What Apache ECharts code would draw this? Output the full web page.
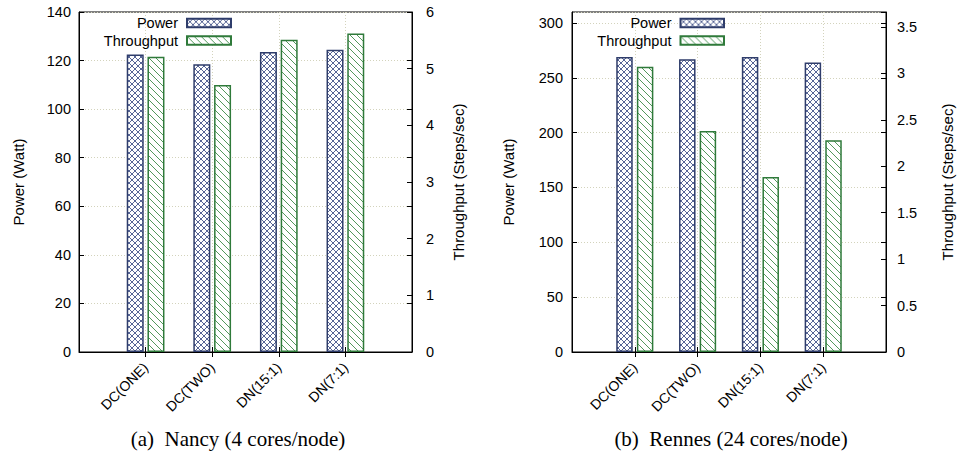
<!DOCTYPE html>
<html><head><meta charset="utf-8">
<script src="https://cdn.jsdelivr.net/npm/echarts@6/dist/echarts.min.js"></script>
<style>html,body{margin:0;padding:0;background:#fff}#c{width:957px;height:453px}</style>
</head><body><div id="c"></div>
<script>
// ---- data ----
const categories = ['DC(ONE)', 'DC(TWO)', 'DN(15:1)', 'DN(7:1)'];
const nancyPower = [122.5, 118.5, 123.5, 124.5];
const nancyThroughput = [5.21, 4.71, 5.51, 5.62];
const rennesPower = [269, 267, 269, 264];
const rennesThroughput = [3.07, 2.38, 1.885, 2.28];
const seriesNames = ['Power', 'Throughput'];
const nancyPowerAxis = [0, 140, 20];       // min, max, step
const nancyThroughputAxis = [0, 6, 1];
const rennesPowerAxis = [0, 310, 50];
const rennesThroughputAxis = [0, 3.66, 0.5];
const captions = ['(a)  Nancy (4 cores/node)', '(b)  Rennes (24 cores/node)'];
const axisNames = ['Power (Watt)', 'Throughput (Steps/sec)'];

// ---- styling helpers ----
const NAVY = '#2f3d6b', GREEN = '#2f7a3a';
const SANS = '"Liberation Sans", Arial, sans-serif';
const SERIF = '"Liberation Serif", "Times New Roman", serif';
function crossPattern(color) {
  const s = 6, c = document.createElement('canvas'); c.width = c.height = s;
  const g = c.getContext('2d'); g.fillStyle = '#fff'; g.fillRect(0, 0, s, s);
  g.strokeStyle = color; g.lineWidth = 0.9;
  g.beginPath(); g.moveTo(0, 0); g.lineTo(s, s); g.moveTo(s, 0); g.lineTo(0, s); g.stroke();
  return c;
}
function hatchPattern(color) {
  const s = 7, c = document.createElement('canvas'); c.width = c.height = s;
  const g = c.getContext('2d'); g.fillStyle = '#fff'; g.fillRect(0, 0, s, s);
  g.strokeStyle = color; g.lineWidth = 0.9;
  g.beginPath();
  for (let k = -1; k <= 1; k++) { g.moveTo(0, k * s); g.lineTo(s, s + k * s); }
  g.stroke();
  return c;
}
const powerStyle = { color: { image: crossPattern('#44548a'), repeat: 'repeat' }, borderColor: NAVY, borderWidth: 1.5 };
const thrStyle = { color: { image: hatchPattern('#3f8c4a'), repeat: 'repeat' }, borderColor: GREEN, borderWidth: 1.5 };

const padCats = [''].concat(categories, ['']);
const pad = arr => [null].concat(arr, [null]);
const inner = idx => idx > 0 && idx < padCats.length - 1;

const grids = [
  { left: 79, right: 545, top: 12, bottom: 101, show: true, borderColor: '#000', borderWidth: 1 },
  { left: 572, right: 70, top: 12, bottom: 101, show: true, borderColor: '#000', borderWidth: 1 }
];

function xAxes(gi) {
  return [
    { type: 'category', gridIndex: gi, data: padCats, boundaryGap: false, position: 'bottom',
      axisLine: { show: true, lineStyle: { color: '#000', width: 1 } },
      axisTick: { show: true, inside: true, length: 5, interval: inner, lineStyle: { color: '#000' } },
      axisLabel: { interval: 0, rotate: 45, margin: 13, fontSize: 14, fontFamily: SANS, color: '#000' },
      splitLine: { show: true, interval: inner, lineStyle: { color: '#d3d3bc', type: [1, 2], width: 1 } } },
    { type: 'category', gridIndex: gi, data: padCats, boundaryGap: false, position: 'top',
      axisLine: { show: false }, axisLabel: { show: false }, splitLine: { show: false },
      axisTick: { show: true, inside: true, length: 5, interval: inner, lineStyle: { color: '#000' } } }
  ];
}
function yAxes(gi, leftAx, rightAx, lm, rm, lgap, rgap, hideMax) {
  const tick = { show: true, inside: true, length: 5, lineStyle: { color: '#000' } };
  const lbl = { fontSize: 14.5, fontFamily: SANS, color: '#000', padding: [3, 0, 0, 0] };
  const nameStyle = { fontSize: 15, fontFamily: SANS, color: '#000', lineHeight: 17 };
  return [
    { type: 'value', gridIndex: gi, position: 'left', min: leftAx[0], max: leftAx[1], interval: leftAx[2],
      name: axisNames[0], nameLocation: 'middle', nameRotate: 90, nameGap: lgap, nameTextStyle: nameStyle,
      axisLine: { show: true, lineStyle: { color: '#000' } }, axisTick: tick,
      axisLabel: Object.assign({ margin: lm, showMaxLabel: !hideMax }, lbl),
      splitLine: { show: true, lineStyle: { color: '#d3d3bc', type: [1, 2], width: 1 } } },
    { type: 'value', gridIndex: gi, position: 'right', min: rightAx[0], max: rightAx[1], interval: rightAx[2],
      name: axisNames[1], nameLocation: 'middle', nameRotate: 90, nameGap: rgap, nameTextStyle: nameStyle,
      axisLine: { show: true, lineStyle: { color: '#000' } }, axisTick: tick,
      axisLabel: Object.assign({ margin: rm, showMaxLabel: !hideMax }, lbl),
      splitLine: { show: false } },
    { type: 'value', gridIndex: gi, position: 'right', min: leftAx[0], max: leftAx[1], interval: leftAx[2],
      axisLine: { show: false }, axisTick: tick, axisLabel: { show: false }, splitLine: { show: false } }
  ];
}

function legend(name, right, top, w) {
  return { data: [name], right: right, top: top, padding: 0, align: 'right', icon: 'rect',
    itemWidth: w, itemHeight: 8.5, selectedMode: false,
    textStyle: { fontSize: 14.5, lineHeight: 15, fontFamily: SANS, color: '#000', padding: [0, 4, 0, 0] } };
}

const option = {
  animation: false,
  backgroundColor: '#fff',
  grid: grids,
  xAxis: xAxes(0).concat(xAxes(1)),
  yAxis: yAxes(0, nancyPowerAxis, nancyThroughputAxis, 8, 14, 52, 38, false)
    .concat(yAxes(1, rennesPowerAxis, rennesThroughputAxis, 9, 11, 55, 53, true)),
  legend: [
    legend(seriesNames[0], 725, 15.5, 44), legend(seriesNames[1], 725, 33, 44),
    legend(seriesNames[0], 232, 15.5, 43.5), legend(seriesNames[1], 232, 33, 43.5)
  ],
  series: [
    { type: 'bar', name: seriesNames[0], xAxisIndex: 0, yAxisIndex: 0, data: pad(nancyPower), barWidth: 17, barGap: '22%', itemStyle: powerStyle },
    { type: 'bar', name: seriesNames[1], xAxisIndex: 0, yAxisIndex: 1, data: pad(nancyThroughput), barWidth: 17, barGap: '22%', itemStyle: thrStyle },
    { type: 'bar', name: seriesNames[0], xAxisIndex: 2, yAxisIndex: 3, data: pad(rennesPower), barWidth: 16.5, barGap: '25%', itemStyle: powerStyle },
    { type: 'bar', name: seriesNames[1], xAxisIndex: 2, yAxisIndex: 4, data: pad(rennesThroughput), barWidth: 16.5, barGap: '25%', itemStyle: thrStyle }
  ],
  graphic: [
    { type: 'text', x: 238, y: 439, style: { text: captions[0], fontSize: 21, fontFamily: SERIF, fill: '#000', align: 'center', verticalAlign: 'middle' } },
    { type: 'text', x: 731, y: 439, style: { text: captions[1], fontSize: 21, fontFamily: SERIF, fill: '#000', align: 'center', verticalAlign: 'middle' } }
  ]
};
const chart = echarts.init(document.getElementById('c'), null, { renderer: 'svg', width: 957, height: 453 });
chart.setOption(option);
</script>
</body></html>
